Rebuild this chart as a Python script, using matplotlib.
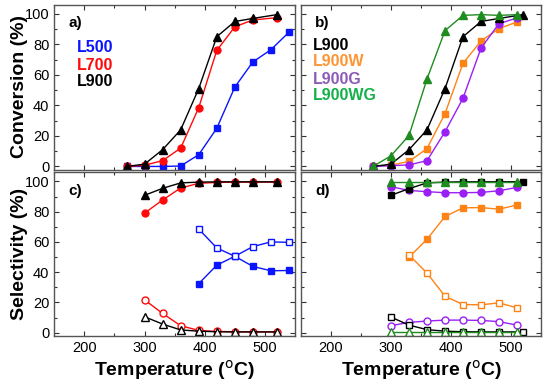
import matplotlib
matplotlib.use("Agg")
import matplotlib.pyplot as plt
from matplotlib.ticker import MultipleLocator

plt.rcParams['font.family'] = ['Liberation Sans', 'DejaVu Sans']
plt.rcParams['mathtext.default'] = 'bf'

# ---------------- Data ----------------
# Panel a) conversion
T_a9 = [270, 300, 330, 360, 390, 420, 450, 480, 520]
T_L500 = [270, 300, 330, 360, 390, 420, 450, 480, 510, 540]
conv_L500 = [0, 0, 0, 0.3, 7.7, 25, 52, 68.5, 76.5, 88]
conv_L700 = [0, 0.8, 3.8, 12, 38.5, 76, 91.5, 96, 97.5]
conv_L900 = [0, 1.5, 11, 24, 51, 85, 95, 97, 99.5]

# Panel b) conversion
T_b = [270, 300, 330, 360, 390, 420, 450, 480, 510]
conv_L900W = [0, 0.8, 3.3, 11.7, 34.6, 67.6, 82.2, 90.3, 94.7]
conv_L900G = [0, 0.5, 1.0, 3.8, 22.7, 44.7, 77.5, 93.6, 97.3]
conv_L900WG = [0, 7, 20.3, 57.3, 89, 99, 99.5, 99, 99.5]

# Panel c) selectivity
T_c = [300, 330, 360, 390, 420, 450, 480, 520]
sel_L900_main = [90.8, 95.4, 99, 99.5, 99.7, 99.7, 99.7, 99.7]
sel_L900_side = [10.5, 5.7, 1.8, 1.0, 0.6, 0.5, 0.5, 0.5]
sel_L700_main = [79, 87.7, 95.6, 98.7, 99.3, 99.5, 99.5, 99.5]
sel_L700_side = [21.7, 12.7, 4.6, 1.5, 0.8, 0.6, 0.5, 0.5]
T_c_L500 = [390, 420, 450, 480, 510, 540]
sel_L500_filled = [32.4, 44.6, 50.5, 43.8, 40.9, 41.1]
sel_L500_open = [68.5, 56, 50.5, 56.9, 60, 59.7]

# Panel d) selectivity
T_d = [300, 330, 360, 390, 420, 450, 480, 510]
T_d_L900 = [300, 330, 360, 390, 420, 450, 480, 520]
sel_d_L900_main = [90.8, 95.2, 99, 99.5, 99.7, 99.7, 99.7, 99.8]
sel_d_L900_side = [10.3, 5, 2, 1, 0.6, 0.5, 0.5, 0.5]
sel_d_L900G_main = [96.5, 94, 93.2, 92.5, 92.5, 92.7, 93.8, 96]
sel_d_L900G_side = [4.6, 6.8, 7.7, 8.3, 8.3, 8.1, 7.3, 5]
sel_d_L900WG_main = [99.7, 99.7, 99.7, 99.7, 99.7, 99.7, 99.7, 99.7]
sel_d_L900WG_side = [0.5, 0.5, 0.5, 0.5, 0.5, 0.5, 0.5, 0.5]
T_d_W = [330, 360, 390, 420, 450, 480, 510]
sel_d_L900W_filled = [49.9, 61.7, 76.8, 82.5, 82.7, 81.6, 84.4]
sel_d_L900W_open = [51.4, 39.4, 24.1, 18.6, 18.4, 19.7, 16.4]

# ---------------- Style ----------------
BLUE = '#0a14ff'
RED = '#ff0a0a'
BLACK = '#000000'
ORANGE = '#ff8214'
PURPLE = '#9a1ff5'
GREEN = '#1f8c1f'
TXT_ORANGE = '#ff9433'
TXT_PURPLE = '#8c5cb8'
TXT_GREEN = '#14b04a'

fig = plt.figure(figsize=(5.5, 3.85), dpi=100)
W, H = 550.0, 385.0

def add_ax(x0, x1, y0, y1):
    return fig.add_axes([x0 / W, 1 - y1 / H, (x1 - x0) / W, (y1 - y0) / H])

ax_a = add_ax(54.3, 295, 4.7, 169.5)
ax_b = add_ax(301, 541, 4.7, 169.5)
ax_c = add_ax(54.3, 295, 172.3, 335.7)
ax_d = add_ax(301, 541, 172.3, 335.7)

for ax in (ax_a, ax_b, ax_c, ax_d):
    ax.set_xlim(150, 550)
    ax.set_ylim(-2, 106)
    ax.xaxis.set_major_locator(MultipleLocator(100))
    ax.xaxis.set_minor_locator(MultipleLocator(50))
    ax.yaxis.set_major_locator(MultipleLocator(20))
    ax.yaxis.set_minor_locator(MultipleLocator(10))
    ax.tick_params(which='both', direction='in', top=True, right=True,
                   labelsize=10.5, color='#333333')
    ax.tick_params(which='major', length=3.5, width=0.8)
    ax.tick_params(which='minor', length=2, width=0.8)
    for s in ax.spines.values():
        s.set_linewidth(1.0)
        s.set_color('#555555')

for ax in (ax_a, ax_b):
    ax.tick_params(labelbottom=False)
for ax in (ax_b, ax_d):
    ax.tick_params(labelleft=False)

lw = 1.0
ms_sq = 4.5
ms_ci = 5.0
ms_tr = 5.5

# a)
ax_a.plot(T_L500, conv_L500, '-s', color=BLUE, lw=lw, ms=ms_sq)
ax_a.plot(T_a9, conv_L700, '-o', color=RED, lw=lw, ms=ms_ci)
ax_a.plot(T_a9, conv_L900, '-^', color=BLACK, lw=lw, ms=ms_tr)

# b)
ax_b.plot(T_b, conv_L900W, '-s', color=ORANGE, lw=lw, ms=ms_sq)
ax_b.plot(T_b, conv_L900G, '-o', color=PURPLE, lw=lw, ms=ms_ci)
ax_b.plot(T_a9, conv_L900, '-^', color=BLACK, lw=lw, ms=ms_tr)
ax_b.plot(T_b, conv_L900WG, '-^', color=GREEN, lw=lw, ms=ms_tr)

# c)
ax_c.plot(T_c_L500, sel_L500_filled, '-s', color=BLUE, lw=lw, ms=ms_sq)
ax_c.plot(T_c_L500, sel_L500_open, '-s', color=BLUE, lw=lw, ms=ms_sq, mfc='white')
ax_c.plot(T_c, sel_L700_main, '-o', color=RED, lw=lw, ms=ms_ci)
ax_c.plot(T_c, sel_L700_side, '-o', color=RED, lw=lw, ms=ms_ci, mfc='white')
ax_c.plot(T_c, sel_L900_main, '-^', color=BLACK, lw=lw, ms=ms_tr)
ax_c.plot(T_c, sel_L900_side, '-^', color=BLACK, lw=lw, ms=ms_tr, mfc='white')

# d)
ax_d.plot(T_d_W, sel_d_L900W_filled, '-s', color=ORANGE, lw=lw, ms=ms_sq)
ax_d.plot(T_d_W, sel_d_L900W_open, '-s', color=ORANGE, lw=lw, ms=ms_sq, mfc='white')
ax_d.plot(T_d, sel_d_L900G_main, '-o', color=PURPLE, lw=lw, ms=ms_ci)
ax_d.plot(T_d, sel_d_L900G_side, '-o', color=PURPLE, lw=lw, ms=ms_ci, mfc='white')
ax_d.plot(T_d_L900, sel_d_L900_main, '-s', color=BLACK, lw=lw, ms=ms_sq)
ax_d.plot(T_d_L900, sel_d_L900_side, '-s', color=BLACK, lw=lw, ms=ms_sq, mfc='white')
ax_d.plot(T_d, sel_d_L900WG_main, '-^', color=GREEN, lw=lw, ms=ms_tr)
ax_d.plot(T_d, sel_d_L900WG_side, '-^', color=GREEN, lw=lw, ms=ms_tr, mfc='white')

# panel letters
for ax, lab in ((ax_a, 'a)'), (ax_b, 'b)'), (ax_c, 'c)'), (ax_d, 'd)')):
    ax.text(0.058, 0.93, lab, transform=ax.transAxes, fontsize=11,
            fontweight='bold', va='top', ha='left')

# in-panel labels
def fig_text(x_px, y_px, s, color):
    fig.text(x_px / W, 1 - y_px / H, s, color=color, fontsize=11.5,
             fontweight='bold', va='center', ha='left')

fig_text(77, 48, 'L500', BLUE)
fig_text(77, 65, 'L700', RED)
fig_text(77, 82, 'L900', BLACK)
fig_text(313, 45, 'L900', BLACK)
fig_text(313, 62, 'L900W', TXT_ORANGE)
fig_text(313, 79, 'L900G', TXT_PURPLE)
fig_text(313, 96, 'L900WG', TXT_GREEN)

# axis labels
fig.text(20 / W, 1 - 87 / H, 'Conversion (%)', rotation=90, fontsize=14,
         fontweight='bold', va='center', ha='center')
fig.text(20 / W, 1 - 254 / H, 'Selectivity (%)', rotation=90, fontsize=14,
         fontweight='bold', va='center', ha='center')
for xc in (174.6, 421):
    fig.text(xc / W, 1 - 376 / H, r'Temperature ($^{\mathsf{o}}$C)',
             fontsize=14, fontweight='bold', va='baseline', ha='center')

fig.savefig('out.png', dpi=100)
